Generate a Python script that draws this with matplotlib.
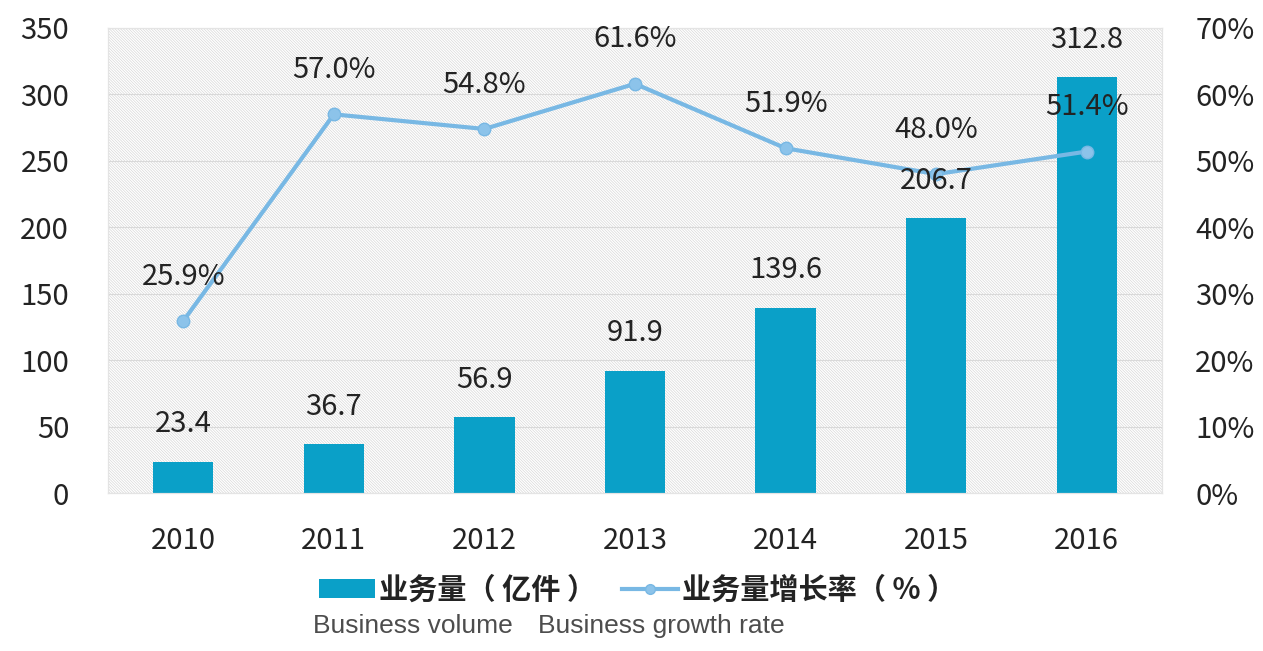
import matplotlib
matplotlib.use('Agg')
import matplotlib.pyplot as plt
from matplotlib.lines import Line2D
from matplotlib.patches import Patch

plt.rcParams['font.family'] = ['Noto Sans CJK SC', 'DejaVu Sans']
plt.rcParams['hatch.linewidth'] = 0.45

years = ['2010', '2011', '2012', '2013', '2014', '2015', '2016']
volume = [23.4, 36.7, 56.9, 91.9, 139.6, 206.7, 312.8]          # 亿件
growth = [25.9, 57.0, 54.8, 61.6, 51.9, 48.0, 51.4]             # %

BAR_C = '#0aa0c8'
LINE_C = '#78b8e4'
TXT_C = '#232323'

fig = plt.figure(figsize=(12.63, 6.51), dpi=100)
ax = fig.add_axes([0.0855, 0.2427, 0.8345, 0.7143])
ax2 = ax.twinx()

# light diagonal hatching behind the bars
ax.patch.set_facecolor('white')
ax.patch.set_hatch('\\' * 12)
ax.patch.set_edgecolor('#d4d4d4')

x = range(len(years))
ax.bar(x, volume, width=0.4, color=BAR_C, zorder=2)
ax.set_ylim(0, 350)
ax.set_xlim(-0.5, len(years) - 0.5)
ax.set_yticks(range(0, 351, 50))
ax.set_xticks(list(x))
ax.set_xticklabels(years)
ax.grid(axis='y', color='#d9d9d9', linewidth=0.8, zorder=1)
ax.set_axisbelow(True)

ax2.plot(x, [g / 100 for g in growth], color=LINE_C, linewidth=3,
         marker='o', markersize=9, markerfacecolor='#8cc3ea',
         markeredgecolor=LINE_C, zorder=3)
ax2.set_ylim(0, 0.7)
ax2.set_yticks([i / 10 for i in range(8)])
ax2.set_yticklabels([f'{i * 10}%' for i in range(8)])

# value labels go on the top axes so nothing is painted over them
for i, v in enumerate(volume):
    ax2.annotate(f'{v:.1f}', (i, v / 500), xytext=(0, 27), textcoords='offset points',
                 ha='center', va='center', fontsize=21, color=TXT_C, zorder=5)
for i, g in enumerate(growth):
    ax2.annotate(f'{g:.1f}%', (i, g / 100), xytext=(0, 32), textcoords='offset points',
                 ha='center', va='center', fontsize=21, color=TXT_C, zorder=5)

for a in (ax, ax2):
    for s in a.spines.values():
        s.set_color('#e4e4e4')
        s.set_linewidth(0.8)
    a.tick_params(length=0, labelsize=21, labelcolor=TXT_C)
ax.tick_params(axis='y', pad=28)
ax.tick_params(axis='x', pad=24)
ax2.tick_params(axis='y', pad=24)

handles = [
    Patch(facecolor=BAR_C, label='业务量（ 亿件 ）'),
    Line2D([0], [0], color=LINE_C, linewidth=3, marker='o', markersize=7,
           markerfacecolor='#8cc3ea', label='业务量增长率（ % ）'),
]
fig.legend(handles=handles, loc='center', bbox_to_anchor=(0.505, 0.094), ncol=2,
           frameon=False, prop={'size': 21, 'weight': 'bold'},
           handlelength=1.9, handleheight=0.6, columnspacing=0.9,
           handletextpad=0.15, labelcolor=TXT_C)

fig.text(0.327, 0.028, 'Business volume', ha='center', va='baseline',
         fontsize=19, color='#4d4d4d', family='Liberation Sans')
fig.text(0.524, 0.028, 'Business growth rate', ha='center', va='baseline',
         fontsize=19, color='#4d4d4d', family='Liberation Sans')

fig.savefig('out.png', dpi=100)
